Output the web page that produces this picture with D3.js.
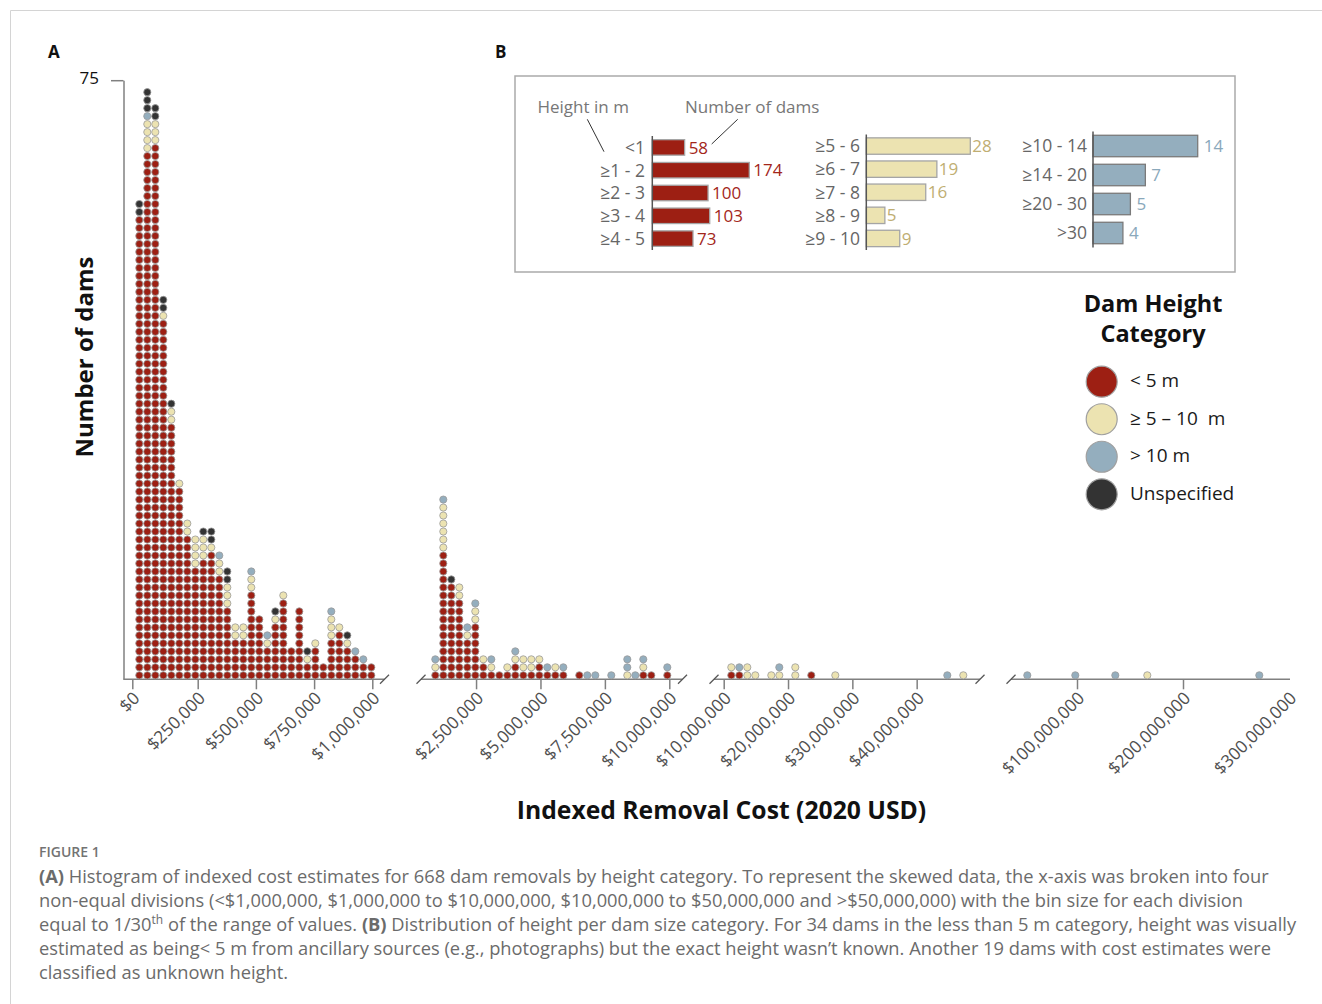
<!DOCTYPE html>
<html><head><meta charset="utf-8">
<script src="https://cdn.jsdelivr.net/npm/d3@7"></script>
<style>
html,body{margin:0;padding:0;background:#fff;}
svg{display:block;}
text{font-family:"Open Sans",sans-serif;}
</style></head>
<body><svg id="c" width="1322" height="1004"></svg>
<script>
// ---------------- DATA ----------------
const heightCategories = ["< 5 m", "≥ 5 – 10  m", "> 10 m", "Unspecified"];
const categoryColors = ["#9d1f13", "#ece3b1", "#94aebe", "#333333"];

// Histogram A: dots per bin (30 bins per division), stacked bottom-up: <5, 5-10, >10, unspecified
// Division 1: < $1,000,000
const div1_lt5   = [58,66,67,45,32,24,18,14,15,16,13,9,5,5,11,8,4,7,10,4,9,2,4,2,5,6,4,3,2,2];
const div1_5to10 = [0,4,3,1,2,1,2,4,3,1,2,3,2,2,2,0,1,1,1,0,0,1,1,0,3,1,1,0,0,0];
const div1_gt10  = [0,1,0,0,0,0,0,0,0,0,1,0,0,0,1,0,1,0,0,0,0,0,0,0,1,0,0,1,1,0];
const div1_unk   = [2,3,2,2,1,0,0,0,1,2,0,2,0,0,0,0,0,1,0,0,0,1,0,0,0,0,1,0,0,0];
// Division 2: $1,000,000 to $10,000,000
const div2_lt5   = [1,16,12,10,5,7,2,1,1,1,2,1,1,2,1,1,1,0,1,0,0,0,0,0,0,0,1,1,0,1];
const div2_5to10 = [1,6,0,2,1,2,1,1,0,1,1,2,2,1,0,1,0,0,0,0,0,0,0,0,1,0,1,0,0,0];
const div2_gt10  = [1,1,0,0,1,1,0,1,0,0,1,0,0,0,1,0,1,0,0,1,1,0,1,0,2,1,1,0,0,1];
const div2_unk   = [0,0,1,0,0,0,0,0,0,0,0,0,0,0,0,0,0,0,0,0,0,0,0,0,0,0,0,0,0,0];
// Division 3: $10,000,000 to $50,000,000
const div3_lt5   = [1,1,0,0,0,0,0,0,0,0,1,0,0,0,0,0,0,0,0,0,0,0,0,0,0,0,0,0,0,0];
const div3_5to10 = [1,0,2,1,0,1,1,0,2,0,0,0,0,1,0,0,0,0,0,0,0,0,0,0,0,0,0,0,0,1];
const div3_gt10  = [0,1,0,0,0,0,1,0,0,0,0,0,0,0,0,0,0,0,0,0,0,0,0,0,0,0,0,1,0,0];
const div3_unk   = [0,0,0,0,0,0,0,0,0,0,0,0,0,0,0,0,0,0,0,0,0,0,0,0,0,0,0,0,0,0];
// Division 4: > $50,000,000
const div4_lt5   = [0,0,0,0,0,0,0,0,0,0,0,0,0,0,0,0,0,0,0,0,0,0,0,0,0,0,0,0,0,0];
const div4_5to10 = [0,0,0,0,0,0,0,0,0,0,0,0,0,0,0,1,0,0,0,0,0,0,0,0,0,0,0,0,0,0];
const div4_gt10  = [1,0,0,0,0,0,1,0,0,0,0,1,0,0,0,0,0,0,0,0,0,0,0,0,0,0,0,0,0,1];
const div4_unk   = [0,0,0,0,0,0,0,0,0,0,0,0,0,0,0,0,0,0,0,0,0,0,0,0,0,0,0,0,0,0];

// x-axis tick values per division and y tick
const div1Ticks = [0, 250000, 500000, 750000, 1000000];
const div2Ticks = [2500000, 5000000, 7500000, 10000000];
const div3Ticks = [10000000, 20000000, 30000000, 40000000];
const div4Ticks = [100000000, 200000000, 300000000];
const yTicks = [75];

// Inset B: height distribution
const lt5Bins = ["<1", "≥1 - 2", "≥2 - 3", "≥3 - 4", "≥4 - 5"];
const lt5Counts = [58, 174, 100, 103, 73];
const midBins = ["≥5 - 6", "≥6 - 7", "≥7 - 8", "≥8 - 9", "≥9 - 10"];
const midCounts = [28, 19, 16, 5, 9];
const tallBins = ["≥10 - 14", "≥14 - 20", "≥20 - 30", ">30"];
const tallCounts = [14, 7, 5, 4];

// ---------------- DRAW ----------------
const svg = d3.select("#c");
const grey = "#808080";

// frame
svg.append("line").attr("x1", 10.5).attr("y1", 10.5).attr("x2", 1322).attr("y2", 10.5).attr("stroke", "#d4d4d4");
svg.append("line").attr("x1", 10.5).attr("y1", 10.5).attr("x2", 10.5).attr("y2", 1004).attr("stroke", "#d4d4d4");

// panel letters
svg.append("text").attr("x", 48).attr("y", 58).attr("font-size", 17).attr("font-weight", 700).attr("fill", "#111").text("A");
svg.append("text").attr("x", 495).attr("y", 58).attr("font-size", 17).attr("font-weight", 700).attr("fill", "#111").text("B");

// y scale (one dot = one dam)
const axisY = 679.3;
const y = d3.scaleLinear().domain([0, 75]).range([axisY, 80.2]);

// divisions
const divisions = [
  [div1_lt5, div1_5to10, div1_gt10, div1_unk],
  [div2_lt5, div2_5to10, div2_gt10, div2_unk],
  [div3_lt5, div3_5to10, div3_gt10, div3_unk],
  [div4_lt5, div4_5to10, div4_gt10, div4_unk]
];
const divTicks = [div1Ticks, div2Ticks, div3Ticks, div4Ticks];
const divLayout = [
  {domain: [0, 250000, 1000000], range: [132.3, 197.7, 372.3], line: [123.5, 384.5], slashes: [384.5]},
  {domain: [1000000, 10000000], range: [437.4, 669.3], line: [421, 682.5], slashes: [421, 682.5]},
  {domain: [10000000, 50000000], range: [723.7, 981], line: [714, 980], slashes: [714, 980]},
  {domain: [50000000, 300000000], range: [1024, 1289], line: [1011, 1290], slashes: [1011]}
];

const dots = [];
divisions.forEach((series, s) => {
  const band = d3.scaleBand().domain(d3.range(30)).range([135.3 + 296 * s, 135.3 + 296 * s + 240]);
  for (let i = 0; i < 30; i++) {
    let k = 0;
    series.forEach((arr, c) => {
      for (let n = 0; n < arr[i]; n++) {
        dots.push({cx: band(i) + band.bandwidth() / 2, k: k, c: c});
        k++;
      }
    });
  }
});

// axes
divLayout.forEach((L, s) => {
  const sc = d3.scaleLinear().domain(L.domain).range(L.range);
  const g = svg.append("g").attr("transform", `translate(0,${axisY})`);
  const ax = d3.axisBottom(sc).tickValues(divTicks[s]).tickSize(10).tickSizeOuter(0).tickFormat(d3.format("$,"));
  g.call(ax);
  g.select(".domain").remove();
  g.append("line").attr("x1", L.line[0]).attr("x2", L.line[1]).attr("stroke", grey).attr("stroke-width", 1.5);
  g.selectAll(".tick line").attr("stroke", grey).attr("stroke-width", 1.5);
  if (s === 3) g.selectAll(".tick").filter(d => d === 300000000).select("line").remove();
  g.selectAll(".tick text")
    .attr("x", 0).attr("y", 0).attr("dy", 0)
    .attr("transform", "translate(8,20) rotate(-45)")
    .attr("text-anchor", "end")
    .attr("fill", "#505050").attr("font-size", 17.3).attr("font-family", "Open Sans");
  L.slashes.forEach(x => {
    g.append("line").attr("x1", x - 4.5).attr("y1", 4.5).attr("x2", x + 4.5).attr("y2", -4.5)
      .attr("stroke", "#555").attr("stroke-width", 1.3);
  });
});

// y axis
const gy = svg.append("g").attr("transform", "translate(123.5,0)")
  .call(d3.axisLeft(y).tickValues(yTicks).tickSize(12.5).tickSizeOuter(0).tickPadding(12));
gy.select(".domain").attr("stroke", grey).attr("stroke-width", 1.5);
gy.selectAll(".tick line").attr("stroke", grey).attr("stroke-width", 1.5);
gy.selectAll(".tick text").attr("font-size", 17).attr("fill", "#111").attr("font-family", "Open Sans").attr("dy", "0.18em");

// dots
svg.append("g").selectAll("circle").data(dots).join("circle")
  .attr("cx", d => d.cx).attr("cy", d => y(d.k + 0.5)).attr("r", 3.6)
  .attr("fill", d => categoryColors[d.c]).attr("stroke", "#9a9a9a").attr("stroke-width", 0.8);

// axis titles
svg.append("text").attr("transform", "translate(93,357) rotate(-90)").attr("text-anchor", "middle")
  .attr("font-size", 24).attr("font-weight", 700).attr("fill", "#111").text("Number of dams");
svg.append("text").attr("x", 721.5).attr("y", 819).attr("text-anchor", "middle")
  .attr("font-size", 24.7).attr("font-weight", 700).attr("fill", "#111").text("Indexed Removal Cost (2020 USD)");

// ---------------- INSET B ----------------
svg.append("rect").attr("x", 515).attr("y", 76).attr("width", 720).attr("height", 196)
  .attr("fill", "#fff").attr("stroke", "#aaaaaa").attr("stroke-width", 1.5);
svg.append("text").attr("x", 537.5).attr("y", 113).attr("font-size", 17).attr("fill", "#777").text("Height in m");
svg.append("text").attr("x", 685).attr("y", 113).attr("font-size", 17).attr("fill", "#777").text("Number of dams");
svg.append("line").attr("x1", 587.3).attr("y1", 119.3).attr("x2", 604).attr("y2", 151.7).attr("stroke", "#333").attr("stroke-width", 1);
svg.append("line").attr("x1", 737.7).attr("y1", 119.3).attr("x2", 711.7).attr("y2", 144).attr("stroke", "#333").attr("stroke-width", 1);

const insetGroups = [
  {cats: lt5Bins, vals: lt5Counts, color: categoryColors[0], axisX: 652.3, yr: [136, 250], px: [174, 97], labelX: 645, valColor: "#a3261a", gap: 4, pad: 0.32, stroke: "#a5a5a5"},
  {cats: midBins, vals: midCounts, color: categoryColors[1], axisX: 866.3, yr: [134.5, 250], px: [28, 104], labelX: 860, valColor: "#c0ae72", gap: 2, pad: 0.29, stroke: "#a5a5a5"},
  {cats: tallBins, vals: tallCounts, color: categoryColors[2], axisX: 1093, yr: [131.5, 247.5], px: [14, 104.7], labelX: 1087, valColor: "#8aa8bb", gap: 6, pad: 0.26, stroke: "#7a7a7a"}
];
insetGroups.forEach(G => {
  const yb = d3.scaleBand().domain(G.cats).range(G.yr).paddingInner(G.pad).paddingOuter(G.pad / 2);
  const xb = d3.scaleLinear().domain([0, G.px[0]]).range([G.axisX, G.axisX + G.px[1]]);
  const g = svg.append("g");
  g.selectAll("rect").data(G.cats).join("rect")
    .attr("x", xb(0)).attr("y", d => yb(d)).attr("height", yb.bandwidth())
    .attr("width", (d, i) => xb(G.vals[i]) - xb(0))
    .attr("fill", G.color).attr("stroke", G.stroke).attr("stroke-width", 1.3);
  g.append("line").attr("x1", G.axisX).attr("x2", G.axisX).attr("y1", G.yr[0]).attr("y2", G.yr[1])
    .attr("stroke", "#555").attr("stroke-width", 1.5);
  g.selectAll("text.cat").data(G.cats).join("text").attr("class", "cat")
    .attr("x", G.labelX).attr("y", d => yb(d) + yb.bandwidth() / 2).attr("dy", "0.36em")
    .attr("text-anchor", "end").attr("font-size", 17.5).attr("fill", "#666").text(d => d);
  g.selectAll("text.val").data(G.cats).join("text").attr("class", "val")
    .attr("x", (d, i) => xb(G.vals[i]) + G.gap).attr("y", d => yb(d) + yb.bandwidth() / 2).attr("dy", "0.36em")
    .attr("font-size", 17).attr("fill", G.valColor).text((d, i) => G.vals[i]);
});

// ---------------- LEGEND ----------------
const legendTitle = svg.append("text").attr("x", 1153).attr("y", 312).attr("text-anchor", "middle")
  .attr("font-size", 23.5).attr("font-weight", 700).attr("fill", "#111");
legendTitle.append("tspan").attr("x", 1153).text("Dam Height");
legendTitle.append("tspan").attr("x", 1153).attr("dy", 30).text("Category");
const ly = d3.scalePoint().domain(heightCategories).range([381.7, 494.3]);
const lg = svg.append("g");
lg.selectAll("circle").data(heightCategories).join("circle")
  .attr("cx", 1101.7).attr("cy", d => ly(d)).attr("r", 15.5)
  .attr("fill", (d, i) => categoryColors[i]).attr("stroke", "#a0a0a0").attr("stroke-width", 1.2);
lg.selectAll("text").data(heightCategories).join("text")
  .attr("x", 1130).attr("y", d => ly(d)).attr("dy", "0.3em").attr("font-size", 19)
  .attr("fill", "#1a1a1a").style("white-space", "pre").text(d => d);

// ---------------- CAPTION ----------------
const capColor = "#6b6b6b";
svg.append("text").attr("x", 39).attr("y", 857).attr("font-size", 14).attr("font-weight", 600)
  .attr("fill", "#737373").text("FIGURE 1");
const capLines = [
  [["(A)", 1], [" Histogram of indexed cost estimates for 668 dam removals by height category. To represent the skewed data, the x-axis was broken into four", 0]],
  [["non-equal divisions (<$1,000,000, $1,000,000 to $10,000,000, $10,000,000 to $50,000,000 and >$50,000,000) with the bin size for each division", 0]],
  [["equal to 1/30", 0], ["th", 2], [" of the range of values. ", 3], ["(B)", 1], [" Distribution of height per dam size category. For 34 dams in the less than 5 m category, height was visually", 0]],
  [["estimated as being< 5 m from ancillary sources (e.g., photographs) but the exact height wasn\u2019t known. Another 19 dams with cost estimates were", 0]],
  [["classified as unknown height.", 0]]
];
capLines.forEach((parts, li) => {
  const t = svg.append("text").attr("x", 39).attr("y", 882.7 + li * 24).attr("font-size", 18.3).attr("fill", capColor);
  parts.forEach(([txt, st]) => {
    const ts = t.append("tspan").text(txt);
    if (st === 1) ts.attr("font-weight", 700);
    if (st === 2) ts.attr("font-size", 12).attr("dy", -7);
    if (st === 3) ts.attr("dy", 7);
  });
});
</script>
</body></html>
